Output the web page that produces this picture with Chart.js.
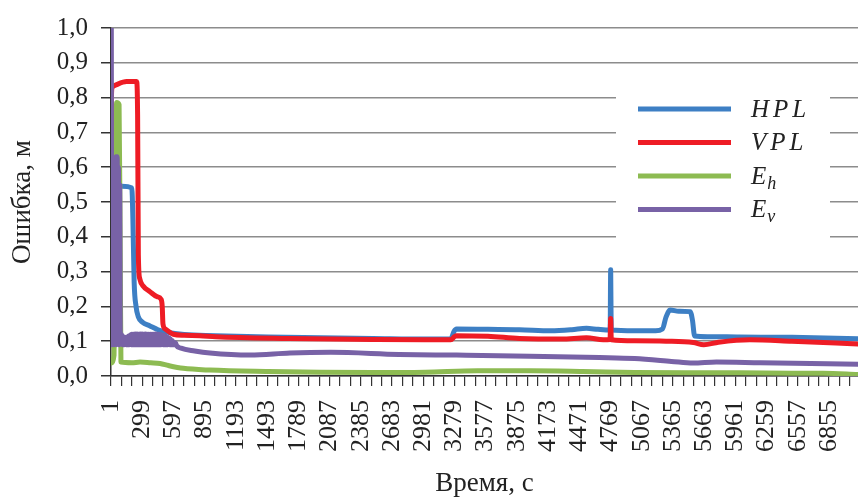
<!DOCTYPE html>
<html>
<head>
<meta charset="utf-8">
<script src="https://cdn.jsdelivr.net/npm/chart.js@4"></script>
<style>
  html, body { margin: 0; padding: 0; background: #fff; }
  #wrap { width: 858px; height: 502px; }
</style>
</head>
<body>
<div id="wrap"><canvas id="grafico" width="858" height="502"></canvas></div>
<script>
// Подписи оси X (время, с)
const xLabels = [1, 299, 597, 895, 1193, 1493, 1789, 2087, 2385, 2683, 2981, 3279,
  3577, 3875, 4173, 4471, 4769, 5067, 5365, 5663, 5961, 6259, 6557, 6855];
const xMax = 7132;

// HPL
const hplT = [1, 8, 20, 105, 200, 210, 222, 240, 262, 300, 373, 450, 532, 700, 1000, 1500, 2000, 2500, 3000,
  3245, 3275, 3300, 3600, 3900, 4200, 4400, 4540, 4650, 4766, 4771, 4776, 5000, 5200, 5265, 5300,
  5340, 5420, 5530, 5552, 5572, 5700, 6000, 6500, 7132];
const hplV = [0.1, 0.45, 0.53, 0.545, 0.54, 0.45, 0.27, 0.2, 0.17, 0.155, 0.144, 0.133, 0.126, 0.119, 0.116, 0.112, 0.11, 0.108, 0.106,
  0.106, 0.128, 0.135, 0.134, 0.133, 0.13, 0.133, 0.137, 0.134, 0.132, 0.305, 0.132, 0.13, 0.13, 0.135, 0.17,
  0.19, 0.186, 0.185, 0.16, 0.115, 0.113, 0.112, 0.111, 0.107];

// VPL
const vplT = [1, 5, 12, 60, 150, 245, 255, 262, 275, 310, 370, 440, 480, 490, 497, 520, 596, 700, 850,
  1000, 1700, 2500, 3000, 3245, 3280, 3300, 3600, 3900, 4300, 4540, 4700, 4765, 4771, 4777, 5000,
  5300, 5560, 5660, 5800, 6100, 6500, 7132];
const vplV = [0.1, 0.8, 0.83, 0.838, 0.846, 0.846, 0.75, 0.35, 0.28, 0.258, 0.243, 0.228, 0.22, 0.2, 0.15, 0.135, 0.12, 0.117, 0.116,
  0.113, 0.108, 0.105, 0.104, 0.104, 0.113, 0.116, 0.114, 0.108, 0.106, 0.11, 0.104, 0.105, 0.165, 0.104, 0.101,
  0.1, 0.096, 0.09, 0.097, 0.104, 0.1, 0.092];

// E_h
const ehT = [1, 30, 45, 55, 78, 88, 96, 200, 278, 380, 469, 550, 691, 946, 1500, 2000, 2500, 3000,
  3500, 4000, 4500, 5000, 5500, 6000, 6500, 6800, 7132];
const ehV = [0.037, 0.06, 0.6, 0.786, 0.78, 0.4, 0.04, 0.038, 0.04, 0.038, 0.036, 0.03, 0.022, 0.017, 0.013, 0.011, 0.01, 0.011,
  0.015, 0.015, 0.013, 0.01, 0.009, 0.009, 0.008, 0.008, 0.004];

// E_v
const evT = [1, 4, 7, 12, 18, 24, 30, 36, 42, 48, 54, 60, 66, 72, 78, 84, 90, 96,
  105, 113, 121, 129, 137, 145, 153, 161, 169, 177, 185, 193, 201, 209, 217, 225, 233, 241, 249, 257,
  265, 273, 281, 289, 297, 305, 313, 321, 329, 337, 345, 353, 361, 369, 377, 385, 393, 401, 409, 417,
  425, 433, 441, 449, 457, 465, 473, 481, 489, 497, 505, 513, 521, 529, 537, 545, 553, 561, 569, 577,
  585, 593, 601, 609, 617, 625,
  670, 800, 946, 1330, 1710, 2100, 2750, 3300, 4000, 4665, 5000, 5350, 5558, 5780, 6200, 7132];
const evV = [0.09, 1.0, 0.09, 0.55, 0.1, 0.6, 0.09, 0.62, 0.1, 0.63, 0.09, 0.63, 0.1, 0.6, 0.09, 0.55, 0.1, 0.12,
  0.115, 0.09, 0.113, 0.09, 0.11, 0.09, 0.112, 0.09, 0.115, 0.09, 0.118, 0.09, 0.12, 0.09, 0.12, 0.09,
  0.121, 0.09, 0.121, 0.09, 0.12, 0.09, 0.121, 0.09, 0.121, 0.09, 0.12, 0.09, 0.121, 0.09, 0.12, 0.09,
  0.12, 0.09, 0.12, 0.09, 0.12, 0.09, 0.12, 0.09, 0.121, 0.09, 0.12, 0.09, 0.12, 0.09, 0.119, 0.09,
  0.118, 0.09, 0.117, 0.09, 0.115, 0.09, 0.112, 0.09, 0.11, 0.09, 0.106, 0.09, 0.102, 0.09, 0.098, 0.09,
  0.095, 0.088,
  0.08, 0.072, 0.066, 0.06, 0.066, 0.068, 0.062, 0.06, 0.057, 0.053, 0.05, 0.042, 0.037, 0.04, 0.038, 0.034];

const seriesNames = ["HPL", "VPL", "E", "E"];
const seriesSubs = ["", "", "h", "v"];
const seriesColors = ["#3d7fc4", "#ee1c25", "#8dbb52", "#7862a6"];

const pts = (t, v) => t.map((x, i) => ({ x: x, y: v[i] }));

// деления оси X: каждые 298/3 с, подписи только на xLabels
const xTicks = [];
xLabels.forEach((v) => {
    xTicks.push(v);
    for (let k = 1; k <= 2; k++) {
        const m = v + k * 298 / 3;
        if (m < xMax) xTicks.push(m);
    }
});

const fontSerif = "'Liberation Serif', 'Times New Roman', serif";

// легенда с подстрочными индексами
const legendaPlugin = {
    id: "legendaPlugin",
    afterDatasetsDraw(chart) {
        const ctx = chart.ctx;
        ctx.save();
        ctx.fillStyle = "#ffffff";
        ctx.fillRect(616, 72, 214, 178);
        const lineY = [109, 142.5, 176, 209.5];
        const textY = [117, 150, 183.5, 217];
        seriesNames.forEach((name, i) => {
            ctx.strokeStyle = seriesColors[i];
            ctx.lineWidth = 5;
            ctx.lineCap = "butt";
            ctx.beginPath();
            ctx.moveTo(638, lineY[i]);
            ctx.lineTo(731, lineY[i]);
            ctx.stroke();

            ctx.fillStyle = "#222";
            ctx.textAlign = "left";
            ctx.textBaseline = "alphabetic";
            ctx.font = "italic 25px " + fontSerif;
            ctx.letterSpacing = seriesSubs[i] ? "0px" : "4px";
            ctx.fillText(name, 751, textY[i]);
            if (seriesSubs[i]) {
                const w = ctx.measureText(name).width;
                ctx.font = "italic 18px " + fontSerif;
                ctx.letterSpacing = "0px";
                ctx.fillText(seriesSubs[i], 751 + w + 1, textY[i] + 5);
            }
        });
        ctx.restore();
    }
};

const dataset = (label, t, v, color, order) => ({
    label: label,
    data: pts(t, v),
    borderColor: color,
    backgroundColor: color,
    borderWidth: 5,
    pointRadius: 0,
    cubicInterpolationMode: "monotone",
    borderJoinStyle: "round",
    borderCapStyle: "round",
    order: order
});

const ctx = document.getElementById("grafico").getContext("2d");
new Chart(ctx, {
    type: "line",
    data: {
        datasets: [
            dataset("HPL", hplT, hplV, seriesColors[0], 3),
            dataset("VPL", vplT, vplV, seriesColors[1], 2),
            dataset("E_h", ehT, ehV, seriesColors[2], 1),
            dataset("E_v", evT, evV, seriesColors[3], 0)
        ]
    },
    options: {
        responsive: false,
        animation: false,
        events: [],
        layout: { padding: { top: 19, right: 0, left: 0, bottom: 0 } },
        plugins: {
            legend: { display: false },
            tooltip: { enabled: false }
        },
        scales: {
            x: {
                type: "linear",
                min: 1,
                max: xMax,
                afterBuildTicks: (scale) => {
                    scale.ticks = xTicks.map(v => ({ value: v }));
                },
                afterFit: (scale) => {
                    scale.height = 126;
                    scale.paddingRight = 0;
                    scale.paddingLeft = 0;
                },
                grid: {
                    drawOnChartArea: false,
                    drawTicks: true,
                    tickLength: 10,
                    color: "#333",
                    lineWidth: 1.2
                },
                border: { display: true, color: "#333", width: 1.5 },
                ticks: {
                    autoSkip: false,
                    minRotation: 90,
                    maxRotation: 90,
                    padding: 14,
                    color: "#222",
                    font: { family: fontSerif, size: 26 },
                    callback: (value) => xLabels.includes(value) ? String(value) : ""
                },
                title: {
                    display: true,
                    text: "Время, с",
                    color: "#222",
                    font: { family: fontSerif, size: 27 },
                    padding: { top: 0, bottom: 2 }
                }
            },
            y: {
                min: 0,
                max: 1,
                afterFit: (scale) => { scale.width = 111; },
                grid: {
                    color: "#8c8c8c",
                    lineWidth: 1.5,
                    tickLength: 10,
                    tickColor: "#333"
                },
                border: { display: true, color: "#333", width: 1.5 },
                ticks: {
                    stepSize: 0.1,
                    padding: 13,
                    color: "#222",
                    font: { family: fontSerif, size: 25 },
                    callback: (v) => v.toFixed(1).replace(".", ",")
                },
                title: {
                    display: true,
                    text: "Ошибка, м",
                    color: "#222",
                    font: { family: fontSerif, size: 27 },
                    padding: { top: 7, bottom: 0 }
                }
            }
        }
    },
    plugins: [legendaPlugin]
});
</script>
</body>
</html>
